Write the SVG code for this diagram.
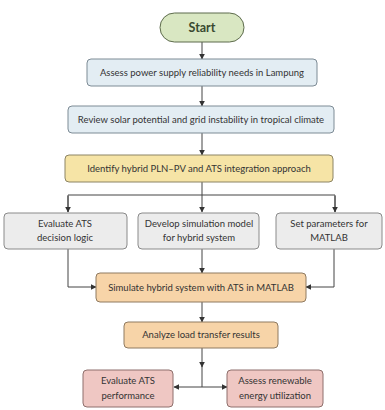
<svg xmlns="http://www.w3.org/2000/svg" width="385" height="410" viewBox="0 0 385 410">
<defs>
<marker id="ah" viewBox="0 0 10 10" refX="9" refY="5" markerWidth="6" markerHeight="6" orient="auto" markerUnits="userSpaceOnUse">
<path d="M0,0 L10,5 L0,10 z" fill="#333"/>
</marker>
</defs>
<style>
.t{font-family:Lato,"Open Sans",sans-serif;font-size:9.5px;fill:#333;text-anchor:middle;}
.b{stroke-width:1;}
.blue{fill:#e3edf3;stroke:#7d8b95;}
.yel{fill:#f6e4a6;stroke:#8c8464;}
.gry{fill:#ececec;stroke:#8a8a8a;}
.org{fill:#f7d4a8;stroke:#8f7a60;}
.pnk{fill:#efc7c3;stroke:#8e6f6c;}
.c{fill:none;stroke:#444;stroke-width:1;}
</style>
<rect width="385" height="410" fill="#ffffff"/>
<g id="connectors">
<line class="c" x1="202" y1="42" x2="202" y2="59" marker-end="url(#ah)"/>
<line class="c" x1="202" y1="86" x2="202" y2="106" marker-end="url(#ah)"/>
<line class="c" x1="202" y1="133" x2="202" y2="155" marker-end="url(#ah)"/>
<line class="c" x1="202" y1="182" x2="202" y2="212" marker-end="url(#ah)"/>
<path class="c" d="M68,212 L68,195 L335,195 L335,212" />
<line class="c" x1="68" y1="196" x2="68" y2="212" marker-end="url(#ah)"/>
<line class="c" x1="335" y1="196" x2="335" y2="212" marker-end="url(#ah)"/>
<line class="c" x1="202" y1="249" x2="202" y2="273" marker-end="url(#ah)"/>
<path class="c" d="M68,249 L68,287 L96,287" marker-end="url(#ah)"/>
<path class="c" d="M334,249 L334,287 L306,287" marker-end="url(#ah)"/>
<line class="c" x1="202" y1="302" x2="202" y2="322" marker-end="url(#ah)"/>
<line class="c" x1="202" y1="348" x2="202" y2="367" marker-end="url(#ah)"/>
<line class="c" x1="202" y1="366" x2="202" y2="387"/>
<line class="c" x1="202" y1="387" x2="174" y2="387" marker-end="url(#ah)"/>
<line class="c" x1="202" y1="387" x2="227" y2="387" marker-end="url(#ah)"/>
</g>
<g id="start">
<rect x="160" y="13" width="84" height="29" rx="14.5" fill="#d9e7c2" stroke="#5d6b4c"/>
<text x="202" y="32" class="t" style="font-size:12.5px;font-weight:bold;fill:#3a4a30">Start</text>
</g>
<g id="assess">
<rect x="87" y="59" width="230" height="27" rx="4" class="blue"/>
<text x="202" y="76" class="t">Assess power supply reliability needs in Lampung</text>
</g>
<g id="review">
<rect x="68" y="106" width="266" height="27" rx="4" class="blue"/>
<text x="201" y="123" class="t">Review solar potential and grid instability in tropical climate</text>
</g>
<g id="identify">
<rect x="65" y="155" width="268" height="27" rx="4" class="yel"/>
<text x="199" y="172" class="t">Identify hybrid PLN–PV and ATS integration approach</text>
</g>
<g id="evaluate-logic">
<rect x="4" y="213" width="123" height="36" rx="4" class="gry"/>
<text x="65" y="227" class="t">Evaluate ATS</text>
<text x="65" y="241" class="t">decision logic</text>
</g>
<g id="develop">
<rect x="138" y="213" width="121" height="36" rx="4" class="gry"/>
<text x="199" y="227" class="t">Develop simulation model</text>
<text x="199" y="241" class="t">for hybrid system</text>
</g>
<g id="params">
<rect x="276" y="213" width="106" height="36" rx="4" class="gry"/>
<text x="329" y="227" class="t">Set parameters for</text>
<text x="329" y="241" class="t">MATLAB</text>
</g>
<g id="simulate">
<rect x="96" y="273" width="210" height="29" rx="4" class="org"/>
<text x="201" y="291" class="t">Simulate hybrid system with ATS in MATLAB</text>
</g>
<g id="analyze">
<rect x="124" y="322" width="154" height="26" rx="4" class="org"/>
<text x="201" y="338" class="t">Analyze load transfer results</text>
</g>
<g id="evaluate-perf">
<rect x="83" y="370" width="90" height="37" rx="4" class="pnk"/>
<text x="128" y="384" class="t">Evaluate ATS</text>
<text x="128" y="399" class="t">performance</text>
</g>
<g id="assess-renew">
<rect x="227" y="370" width="96" height="37" rx="4" class="pnk"/>
<text x="275" y="384" class="t">Assess renewable</text>
<text x="275" y="399" class="t">energy utilization</text>
</g>
</svg>
